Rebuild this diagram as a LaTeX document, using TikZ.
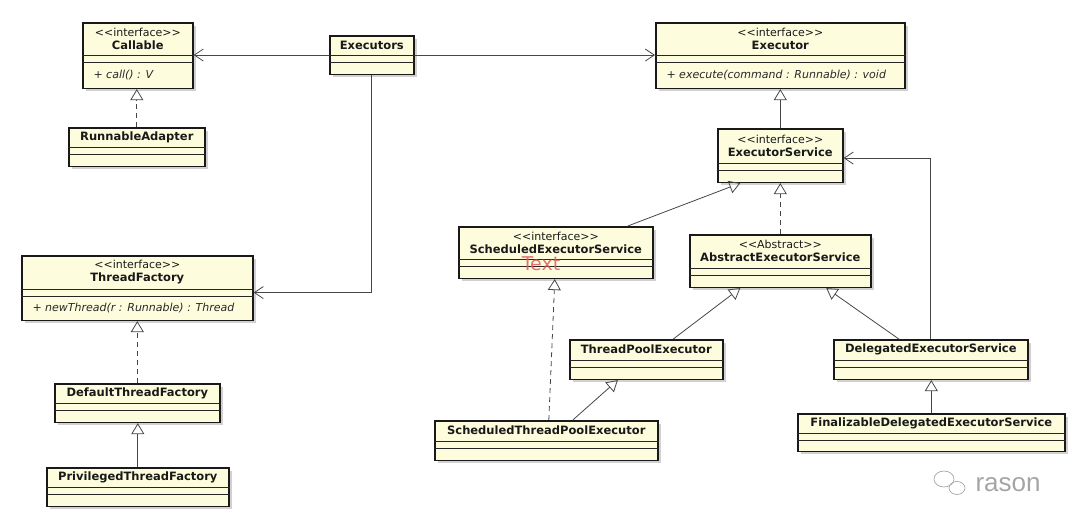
\documentclass[tikz,border=0pt]{standalone}
\usepackage{fontspec}
\setmainfont{DejaVu Sans}
\newfontfamily\markfont{Liberation Sans}
\usetikzlibrary{arrows.meta, shadows}

\definecolor{umlfill}{RGB}{253,253,222}
\definecolor{umlline}{RGB}{70,70,70}
\definecolor{umltext}{RGB}{40,40,40}
\definecolor{strayred}{RGB}{222,92,92}
\definecolor{markgray}{RGB}{165,165,165}

\newcommand{\stereo}[1]{{\mdseries\fontsize{11}{13}\selectfont<\kern0pt<#1>\kern0pt>}}
% #1 node, #2 top left, #3 width, #4 name part, #5 operation part, #6 title, #7 operation
\newcommand{\umlclass}[7]{%
  \node[classbox, minimum width=#3pt, minimum height={(#4+7.5+#5)*1pt}] (#1) at #2 {};
  \draw[compsplit] ([yshift=-#4pt]#1.north west) -- ([yshift=-#4pt]#1.north east);
  \draw[compsplit] ([yshift={-(#4+7.5)*1pt}]#1.north west) -- ([yshift={-(#4+7.5)*1pt}]#1.north east);
  \node[classtitle] (#1-title) at ([yshift={-#4/2*1pt}]#1.north) {#6};
  \node[classop] (#1-op) at ([xshift=8pt, yshift={-(#4+7.5+#5/2)*1pt}]#1.north west) {#7};
}

\begin{document}
\begin{tikzpicture}[x=1pt, y=1pt,
  classbox/.style={draw=black!90, line width=1.6pt, fill=umlfill, anchor=north west, inner sep=0pt,
    drop shadow={shadow xshift=3pt, shadow yshift=-3pt, fill=black, opacity=0.18}},
  compsplit/.style={draw=black!85, line width=0.8pt},
  classtitle/.style={font=\fontsize{11.5}{13}\selectfont\bfseries, align=center, text=black!90},
  classop/.style={anchor=west, font=\fontsize{11}{13}\selectfont\itshape, text=umltext},
  assoc/.style={draw=umlline, line width=0.8pt, -{Straight Barb[length=9pt, width=12pt, line width=0.8pt]}},
  gen/.style={draw=umlline, line width=0.8pt, -{Triangle[open, length=11pt, width=13pt, line width=0.8pt]}},
  realize/.style={gen, dash pattern=on 5pt off 4pt}]
\useasboundingbox (0,0) rectangle (1080,-528);

% left column
\umlclass{callable}{(82,-22)}{110}{33}{25}{\stereo{interface}\\Callable}{+ call() : V}
\umlclass{executors}{(329,-35)}{84}{20}{11}{Executors}{}
\umlclass{runnableAdapter}{(68,-127)}{136}{20}{11}{RunnableAdapter}{}
\umlclass{threadFactory}{(21,-255)}{231}{34}{23}{\stereo{interface}\\ThreadFactory}{+ newThread(r : Runnable) : Thread}
\umlclass{defaultThreadFactory}{(54,-383)}{165}{20}{11}{DefaultThreadFactory}{}
\umlclass{privilegedThreadFactory}{(46,-467)}{182}{20}{11}{PrivilegedThreadFactory}{}

% right part
\umlclass{executor}{(655,-22)}{249}{33}{25}{\stereo{interface}\\Executor}{+ execute(command : Runnable) : void}
\umlclass{executorService}{(717,-128)}{125}{35}{11}{\stereo{interface}\\ExecutorService}{}
\umlclass{scheduledExecutorService}{(458,-226)}{194}{33}{11}{\stereo{interface}\\ScheduledExecutorService}{}
\umlclass{abstractExecutorService}{(689,-234)}{181}{34}{11}{\stereo{Abstract}\\AbstractExecutorService}{}
\umlclass{threadPoolExecutor}{(569,-339)}{153}{21}{11}{ThreadPoolExecutor}{}
\umlclass{delegatedExecutorService}{(833,-339)}{194}{21}{11}{DelegatedExecutorService}{}
\umlclass{scheduledThreadPoolExecutor}{(434,-420)}{223}{21}{11}{ScheduledThreadPoolExecutor}{}
\umlclass{finalizable}{(797,-413)}{267}{20}{10}{FinalizableDelegatedExecutorService}{}

\node[text=strayred, opacity=0.85, font=\fontsize{19}{21}\selectfont] (strayText) at (541,-264) {Text};

% associations
\draw[assoc] (executors.west) -- (executors.west -| callable.east);
\draw[assoc] (executors.east) -- (executors.east -| executor.west);
\draw[assoc] (executors.south) |- ([yshift=-4.5pt]threadFactory.east);
\draw[assoc] (delegatedExecutorService.north) |- ([yshift=-2.5pt]executorService.east);

% inheritance
\draw[realize] (runnableAdapter.north) -- (runnableAdapter.north |- callable.south);
\draw[realize] (defaultThreadFactory.north) -- (defaultThreadFactory.north |- threadFactory.south);
\draw[gen] (privilegedThreadFactory.north) -- (privilegedThreadFactory.north |- defaultThreadFactory.south);
\draw[gen] (executorService.north) -- (executorService.north |- executor.south);
\draw[realize] (abstractExecutorService.north) -- (abstractExecutorService.north |- executorService.south);
\draw[gen] ([xshift=72pt]scheduledExecutorService.north) -- ([xshift=-40pt]executorService.south);
\draw[gen] ([xshift=27pt]threadPoolExecutor.north) -- ([xshift=-40pt]abstractExecutorService.south);
\draw[gen] ([xshift=-32pt]delegatedExecutorService.north) -- ([xshift=46pt]abstractExecutorService.south);
\draw[realize] ([xshift=2.5pt]scheduledThreadPoolExecutor.north) -- ([xshift=-1pt]scheduledExecutorService.south);
\draw[gen] ([xshift=26.5pt]scheduledThreadPoolExecutor.north) -- ([xshift=-28.5pt]threadPoolExecutor.south);
\draw[gen] (finalizable.north) -- (finalizable.north |- delegatedExecutorService.south);

% watermark
\draw[markgray, line width=0.7pt] (944,-479) ellipse [x radius=10, y radius=8];
\draw[markgray, line width=0.7pt] (957,-488) ellipse [x radius=8, y radius=6.5];
\node[anchor=west, text=markgray, font=\fontsize{26}{28}\selectfont\markfont] (mark) at (972,-485) {rason};
\end{tikzpicture}
\end{document}
